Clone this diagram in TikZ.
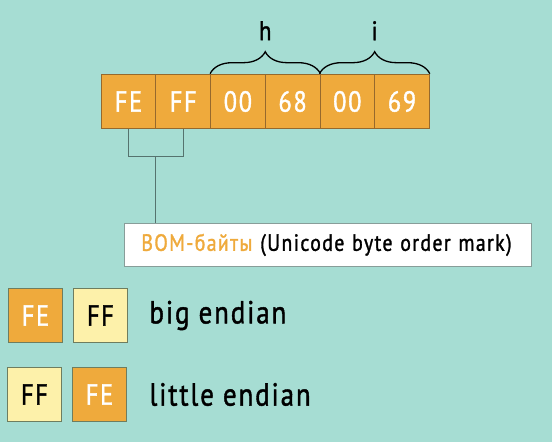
\documentclass[tikz,border=0pt]{standalone}
\usepackage{fontspec}
\setmainfont{PT Sans}[FakeStretch=0.84,LetterSpace=6,FakeBold=1.3]
\usetikzlibrary{positioning, calc, decorations.pathreplacing}

\definecolor{bgteal}{RGB}{166,221,211}
\definecolor{byteorange}{RGB}{239,170,60}
\definecolor{bytepale}{RGB}{253,241,170}
\definecolor{byteedge}{RGB}{150,105,45}
\definecolor{legedge}{RGB}{110,125,95}
\definecolor{linegrey}{RGB}{85,115,110}

\tikzset{
  byte/.style={draw=byteedge, line width=0.9pt, fill=byteorange, text=white,
    minimum size=54.7pt, inner sep=0pt, font=\fontsize{29}{29}\selectfont},
  hibyte/.style={byte, draw=legedge},
  lobyte/.style={hibyte, fill=bytepale, text=black},
  charlabel/.style={font=\fontsize{27}{27}\selectfont},
  legtext/.style={anchor=west, font=\fontsize{32}{32}\selectfont}
}

\begin{document}
\begin{tikzpicture}[x=1pt, y=1pt, node distance=54.7pt, on grid]
  \fill[bgteal] (0,0) rectangle (552,442);
  \useasboundingbox (0,0) rectangle (552,442);

  % bytes of the string
  \node[byte] (b1) at (128.5,340.5) {FE};
  \node[byte] (b2) [right=of b1] {FF};
  \node[byte] (b3) [right=of b2] {00};
  \node[byte] (b4) [right=of b3] {68};
  \node[byte] (b5) [right=of b4] {00};
  \node[byte] (b6) [right=of b5] {69};

  % characters
  \draw[line width=1.3pt, decorate, decoration={brace, amplitude=22pt}]
    (b3.north west) -- (b4.north east) coordinate[midway] (hmid);
  \draw[line width=1.3pt, decorate, decoration={brace, amplitude=22pt}]
    (b5.north west) -- (b6.north east) coordinate[midway] (imid);
  \node[charlabel] (hlab) at ($(hmid)+(0,43)$) {h};
  \node[charlabel] (ilab) at ($(imid)+(0,43)$) {i};

  % BOM note
  \node[draw=linegrey!70, fill=white, line width=0.8pt, minimum width=407pt,
    minimum height=43pt, inner xsep=17pt, anchor=north west,
    font=\fontsize{23.5}{23.5}\selectfont, align=left, text width=373pt]
    (bom) at (124,219) {\textcolor{byteorange}{BOM-байты} (Unicode byte order mark)};
  \coordinate (fork) at ($(b1.south)!0.5!(b2.south)+(0,-27)$);
  \draw[linegrey, line width=1pt] (b1.south) |- (fork) -| (b2.south);
  \draw[linegrey, line width=1pt] (fork) -- (fork |- bom.north);

  % legend
  \node[hibyte] (be1) at (35.5,126.5) {FE};
  \node[lobyte] (be2) [right=65pt of be1] {FF};
  \node[legtext] (betext) at (146,126.5) {big endian};
  \node[lobyte] (le1) at (34.5,47.5) {FF};
  \node[hibyte] (le2) [right=65pt of le1] {FE};
  \node[legtext] (letext) at (146,47.5) {little endian};
\end{tikzpicture}
\end{document}
